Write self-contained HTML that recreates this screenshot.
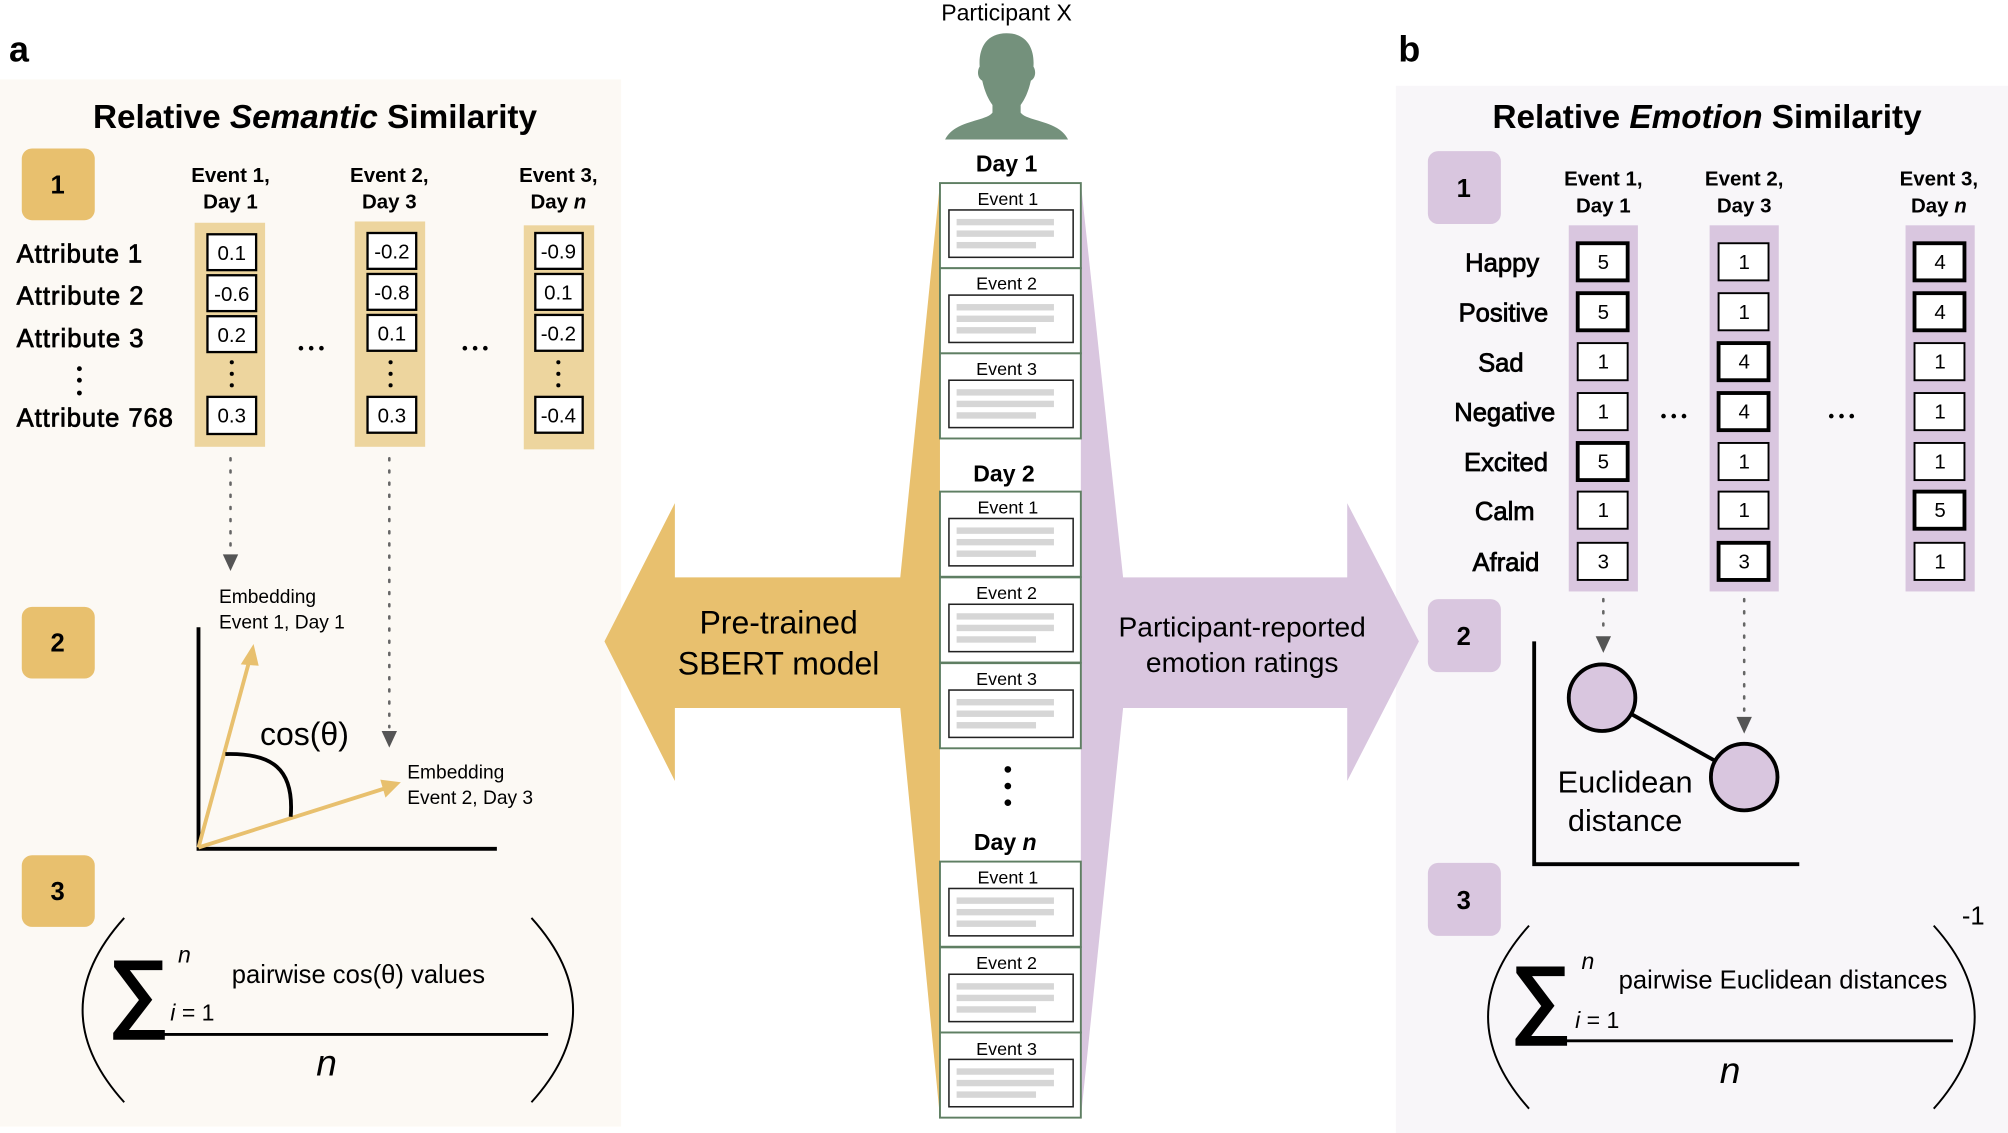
<!DOCTYPE html>
<html><head><meta charset="utf-8"><style>
html,body{margin:0;padding:0;background:#fff;}
svg{display:block;}
text{font-family:"Liberation Sans",Arial,sans-serif;fill:#000;}
</style></head><body>
<svg width="2008" height="1133" viewBox="0 0 1568 885" preserveAspectRatio="none" xmlns="http://www.w3.org/2000/svg">
<defs>
<g id="ev">
<rect x="734" y="0" width="110" height="66.5" fill="#fff" stroke="#5f7f63" stroke-width="1.5"/>
<rect x="741" y="21" width="97" height="37" fill="#fff" stroke="#222" stroke-width="1.2"/>
<rect x="747" y="28" width="76" height="5" fill="#d6d6d6"/>
<rect x="747" y="37" width="76" height="5" fill="#d6d6d6"/>
<rect x="747" y="46" width="62" height="5" fill="#d6d6d6"/>
</g>
</defs>
<rect width="1568" height="885" fill="#fff"/>
<rect x="0" y="62" width="485" height="818" fill="#fcf9f4"/>
<rect x="1090" y="67" width="478" height="818" fill="#f8f6f9"/>
<text x="7" y="48" font-size="28" font-weight="bold">a</text>
<text x="1092" y="48" font-size="28" font-weight="bold">b</text>

<polygon points="734,143 703,451 527,451 527,393 472,501 527,610 527,553 703,553 734,873" fill="#e8c06e"/>
<polygon points="844,143 877,451 1052,451 1052,393 1108,501 1052,610 1052,553 877,553 844,873" fill="#d9c6df"/>
<text x="608" y="495" font-size="25" text-anchor="middle">Pre-trained</text>
<text x="608" y="527" font-size="25" text-anchor="middle">SBERT model</text>
<text x="970" y="497" font-size="22" text-anchor="middle">Participant-reported</text>
<text x="970" y="525" font-size="22" text-anchor="middle">emotion ratings</text>

<text x="786" y="16" font-size="18" text-anchor="middle">Participant X</text>
<path d="M786,26 C770,26 764,38 765,52 C763,55 763,61 767,63 C769,72 772,78 775,82 L775,88 C770,95 745,94 738,109 L834,109 C827,94 802,95 797,88 L797,82 C800,78 803,72 805,63 C809,61 809,55 807,52 C808,38 802,26 786,26Z" fill="#74917c"/>
<text x="786" y="134" font-size="18" font-weight="bold" text-anchor="middle">Day 1</text>
<use href="#ev" y="143"/><text x="787" y="160" font-size="14" text-anchor="middle">Event 1</text>
<use href="#ev" y="209.5"/><text x="786" y="226" font-size="14" text-anchor="middle">Event 2</text>
<use href="#ev" y="276"/><text x="786" y="293" font-size="14" text-anchor="middle">Event 3</text>
<text x="784" y="376" font-size="18" font-weight="bold" text-anchor="middle">Day 2</text>
<use href="#ev" y="384"/><text x="787" y="401" font-size="14" text-anchor="middle">Event 1</text>
<use href="#ev" y="451"/><text x="786" y="468" font-size="14" text-anchor="middle">Event 2</text>
<use href="#ev" y="518"/><text x="786" y="535" font-size="14" text-anchor="middle">Event 3</text>
<circle cx="787" cy="601" r="2.6"/><circle cx="787" cy="614" r="2.6"/><circle cx="787" cy="627" r="2.6"/>
<text x="785" y="664" font-size="18" font-weight="bold" text-anchor="middle">Day <tspan font-style="italic">n</tspan></text>
<use href="#ev" y="673"/><text x="787" y="690" font-size="14" text-anchor="middle">Event 1</text>
<use href="#ev" y="740"/><text x="786" y="757" font-size="14" text-anchor="middle">Event 2</text>
<use href="#ev" y="806.5"/><text x="786" y="824" font-size="14" text-anchor="middle">Event 3</text>

<text x="246" y="100" font-size="26" font-weight="bold" text-anchor="middle">Relative <tspan font-style="italic">Semantic</tspan> Similarity</text>
<rect x="17" y="116" width="57" height="56" rx="8" fill="#e8c06e"/>
<text x="45" y="151" font-size="20" font-weight="bold" text-anchor="middle">1</text>
<rect x="17" y="474" width="57" height="56" rx="8" fill="#e8c06e"/>
<text x="45" y="509" font-size="20" font-weight="bold" text-anchor="middle">2</text>
<rect x="17" y="668" width="57" height="56" rx="8" fill="#e8c06e"/>
<text x="45" y="703" font-size="20" font-weight="bold" text-anchor="middle">3</text>

<g font-size="16" font-weight="bold" text-anchor="middle">
<text x="180" y="142">Event 1,</text><text x="180" y="163">Day 1</text>
<text x="304" y="142">Event 2,</text><text x="304" y="163">Day 3</text>
<text x="436" y="142">Event 3,</text><text x="436" y="163">Day <tspan font-style="italic">n</tspan></text>
</g>
<g font-size="20" stroke="#000" stroke-width="0.6">
<text x="13" y="205" textLength="98">Attribute 1</text>
<text x="13" y="238" textLength="99">Attribute 2</text>
<text x="13" y="271" textLength="99">Attribute 3</text>
<text x="13" y="333" textLength="122">Attribute 768</text>
</g>
<circle cx="62" cy="288" r="1.9"/><circle cx="62" cy="297" r="1.9"/><circle cx="62" cy="307" r="1.9"/>

<rect x="152" y="174" width="55" height="175" fill="#edd59e"/>
<rect x="277" y="173" width="55" height="176" fill="#edd59e"/>
<rect x="409" y="176" width="55" height="175" fill="#edd59e"/>
<g fill="#fff" stroke="#000" stroke-width="1.8">
<rect x="162" y="183" width="38" height="28"/><rect x="162" y="215" width="38" height="28"/><rect x="162" y="247" width="38" height="28"/><rect x="162" y="310" width="38" height="29"/>
<rect x="287" y="182" width="38" height="28"/><rect x="287" y="214" width="38" height="28"/><rect x="287" y="246" width="38" height="28"/><rect x="287" y="310" width="38" height="28"/>
<rect x="418" y="182" width="37" height="28"/><rect x="418" y="214" width="37" height="28"/><rect x="418" y="246" width="37" height="28"/><rect x="418" y="310" width="37" height="28"/>
</g>
<g font-size="16" text-anchor="middle">
<text x="181" y="203">0.1</text><text x="181" y="235">-0.6</text><text x="181" y="267">0.2</text><text x="181" y="330">0.3</text>
<text x="306" y="202">-0.2</text><text x="306" y="234">-0.8</text><text x="306" y="266">0.1</text><text x="306" y="330">0.3</text>
<text x="436" y="202">-0.9</text><text x="436" y="234">0.1</text><text x="436" y="266">-0.2</text><text x="436" y="330">-0.4</text>
</g>
<g>
<circle cx="181" cy="283" r="1.6"/><circle cx="181" cy="292" r="1.6"/><circle cx="181" cy="301" r="1.6"/>
<circle cx="305" cy="283" r="1.6"/><circle cx="305" cy="292" r="1.6"/><circle cx="305" cy="301" r="1.6"/>
<circle cx="436" cy="283" r="1.6"/><circle cx="436" cy="292" r="1.6"/><circle cx="436" cy="301" r="1.6"/>
<circle cx="235" cy="272" r="1.8"/><circle cx="243" cy="272" r="1.8"/><circle cx="251" cy="272" r="1.8"/>
<circle cx="363" cy="272" r="1.8"/><circle cx="371" cy="272" r="1.8"/><circle cx="379" cy="272" r="1.8"/>
</g>
<line x1="180" y1="358" x2="180" y2="430" stroke="#666" stroke-width="2" stroke-dasharray="1.5 8" stroke-linecap="round"/>
<polygon points="174,433 186,433 180,446" fill="#555"/>
<line x1="304" y1="358" x2="304" y2="568" stroke="#666" stroke-width="2" stroke-dasharray="1.5 8" stroke-linecap="round"/>
<polygon points="298,571 310,571 304,584" fill="#555"/>

<text x="171" y="471" font-size="15">Embedding</text>
<text x="171" y="491" font-size="15">Event 1, Day 1</text>
<text x="318" y="608" font-size="15">Embedding</text>
<text x="318" y="628" font-size="15">Event 2, Day 3</text>
<path d="M155,490 L155,663 L388,663" fill="none" stroke="#000" stroke-width="3"/>
<line x1="155" y1="662" x2="195" y2="515" stroke="#e8c06e" stroke-width="3"/>
<polygon points="198,503 188,519 202,520" fill="#e8c06e"/>
<line x1="155" y1="662" x2="300" y2="616" stroke="#e8c06e" stroke-width="3"/>
<polygon points="313,611 297,609 301,623" fill="#e8c06e"/>
<path d="M176,589 C212,588 230,600 227,638" fill="none" stroke="#000" stroke-width="3"/>
<text x="203" y="582" font-size="25">cos(θ)</text>

<path d="M97,717 Q32,789 97,861" fill="none" stroke="#000" stroke-width="1.5"/>
<path d="M415,717 Q480,789 415,861" fill="none" stroke="#000" stroke-width="1.5"/>
<text x="84" y="797" font-size="68" font-weight="bold">∑</text>
<text x="139" y="752" font-size="18" font-style="italic">n</text>
<text x="133" y="797" font-size="18"><tspan font-style="italic">i</tspan> = 1</text>
<text x="181" y="768" font-size="20">pairwise cos(θ) values</text>
<line x1="89" y1="808" x2="428" y2="808" stroke="#000" stroke-width="2.2"/>
<text x="255" y="840" font-size="29" font-style="italic" text-anchor="middle">n</text>

<text x="1333" y="100" font-size="26" font-weight="bold" text-anchor="middle">Relative <tspan font-style="italic">Emotion</tspan> Similarity</text>
<rect x="1115" y="118" width="57" height="57" rx="8" fill="#d9c6df"/>
<text x="1143" y="154" font-size="20" font-weight="bold" text-anchor="middle">1</text>
<rect x="1115" y="468" width="57" height="57" rx="8" fill="#d9c6df"/>
<text x="1143" y="504" font-size="20" font-weight="bold" text-anchor="middle">2</text>
<rect x="1115" y="674" width="57" height="57" rx="8" fill="#d9c6df"/>
<text x="1143" y="710" font-size="20" font-weight="bold" text-anchor="middle">3</text>
<g font-size="16" font-weight="bold" text-anchor="middle">
<text x="1252" y="145">Event 1,</text><text x="1252" y="166">Day 1</text>
<text x="1362" y="145">Event 2,</text><text x="1362" y="166">Day 3</text>
<text x="1514" y="145">Event 3,</text><text x="1514" y="166">Day <tspan font-style="italic">n</tspan></text>
</g>
<g font-size="20" text-anchor="middle" stroke="#000" stroke-width="0.6">
<text x="1173" y="212">Happy</text><text x="1174" y="251">Positive</text><text x="1172" y="290">Sad</text>
<text x="1175" y="329">Negative</text><text x="1176" y="368">Excited</text><text x="1175" y="406">Calm</text><text x="1176" y="446">Afraid</text>
</g>
<rect x="1225" y="176" width="54" height="286" fill="#d9c6df"/>
<rect x="1335" y="176" width="54" height="286" fill="#d9c6df"/>
<rect x="1488" y="176" width="54" height="286" fill="#d9c6df"/>
<g fill="#fff" stroke="#000">
<rect x="1232" y="190" width="39" height="29" stroke-width="3"/>
<rect x="1232" y="229" width="39" height="29" stroke-width="3"/>
<rect x="1232" y="268" width="39" height="29" stroke-width="1.5"/>
<rect x="1232" y="307" width="39" height="29" stroke-width="1.5"/>
<rect x="1232" y="346" width="39" height="29" stroke-width="3"/>
<rect x="1232" y="384" width="39" height="29" stroke-width="1.5"/>
<rect x="1232" y="424" width="39" height="29" stroke-width="1.5"/>
<rect x="1342" y="190" width="39" height="29" stroke-width="1.5"/>
<rect x="1342" y="229" width="39" height="29" stroke-width="1.5"/>
<rect x="1342" y="268" width="39" height="29" stroke-width="3"/>
<rect x="1342" y="307" width="39" height="29" stroke-width="3"/>
<rect x="1342" y="346" width="39" height="29" stroke-width="1.5"/>
<rect x="1342" y="384" width="39" height="29" stroke-width="1.5"/>
<rect x="1342" y="424" width="39" height="29" stroke-width="3"/>
<rect x="1495" y="190" width="39" height="29" stroke-width="3"/>
<rect x="1495" y="229" width="39" height="29" stroke-width="3"/>
<rect x="1495" y="268" width="39" height="29" stroke-width="1.5"/>
<rect x="1495" y="307" width="39" height="29" stroke-width="1.5"/>
<rect x="1495" y="346" width="39" height="29" stroke-width="1.5"/>
<rect x="1495" y="384" width="39" height="29" stroke-width="3"/>
<rect x="1495" y="424" width="39" height="29" stroke-width="1.5"/>
</g>
<g font-size="16" text-anchor="middle">
<text x="1252" y="210">5</text><text x="1252" y="249">5</text><text x="1252" y="288">1</text><text x="1252" y="327">1</text><text x="1252" y="366">5</text><text x="1252" y="404">1</text><text x="1252" y="444">3</text>
<text x="1362" y="210">1</text><text x="1362" y="249">1</text><text x="1362" y="288">4</text><text x="1362" y="327">4</text><text x="1362" y="366">1</text><text x="1362" y="404">1</text><text x="1362" y="444">3</text>
<text x="1515" y="210">4</text><text x="1515" y="249">4</text><text x="1515" y="288">1</text><text x="1515" y="327">1</text><text x="1515" y="366">1</text><text x="1515" y="404">5</text><text x="1515" y="444">1</text>
</g>
<circle cx="1299" cy="325" r="1.8"/><circle cx="1307" cy="325" r="1.8"/><circle cx="1315" cy="325" r="1.8"/>
<circle cx="1430" cy="325" r="1.8"/><circle cx="1438" cy="325" r="1.8"/><circle cx="1446" cy="325" r="1.8"/>
<line x1="1252" y1="468" x2="1252" y2="494" stroke="#666" stroke-width="2" stroke-dasharray="1.5 8" stroke-linecap="round"/>
<polygon points="1246,497 1258,497 1252,510" fill="#555"/>
<line x1="1362" y1="468" x2="1362" y2="558" stroke="#666" stroke-width="2" stroke-dasharray="1.5 8" stroke-linecap="round"/>
<polygon points="1356,560 1368,560 1362,573" fill="#555"/>
<path d="M1198,501 L1198,675 L1405,675" fill="none" stroke="#000" stroke-width="3"/>
<line x1="1251" y1="545" x2="1362" y2="607" stroke="#000" stroke-width="3"/>
<circle cx="1251" cy="545" r="26" fill="#d9c6df" stroke="#000" stroke-width="3"/>
<circle cx="1362" cy="607" r="26" fill="#d9c6df" stroke="#000" stroke-width="3"/>
<text x="1269" y="619" font-size="24" text-anchor="middle">Euclidean</text>
<text x="1269" y="649" font-size="24" text-anchor="middle">distance</text>

<path d="M1194,723 Q1130,794 1194,866" fill="none" stroke="#000" stroke-width="1.5"/>
<path d="M1510,723 Q1574,794 1510,866" fill="none" stroke="#000" stroke-width="1.5"/>
<text x="1532" y="722" font-size="20">-1</text>
<text x="1179" y="802" font-size="68" font-weight="bold">∑</text>
<text x="1235" y="757" font-size="18" font-style="italic">n</text>
<text x="1230" y="803" font-size="18"><tspan font-style="italic">i</tspan> = 1</text>
<text x="1264" y="772" font-size="20">pairwise Euclidean distances</text>
<line x1="1185" y1="813" x2="1525" y2="813" stroke="#000" stroke-width="2.2"/>
<text x="1351" y="846" font-size="29" font-style="italic" text-anchor="middle">n</text>
</svg>
</body></html>
